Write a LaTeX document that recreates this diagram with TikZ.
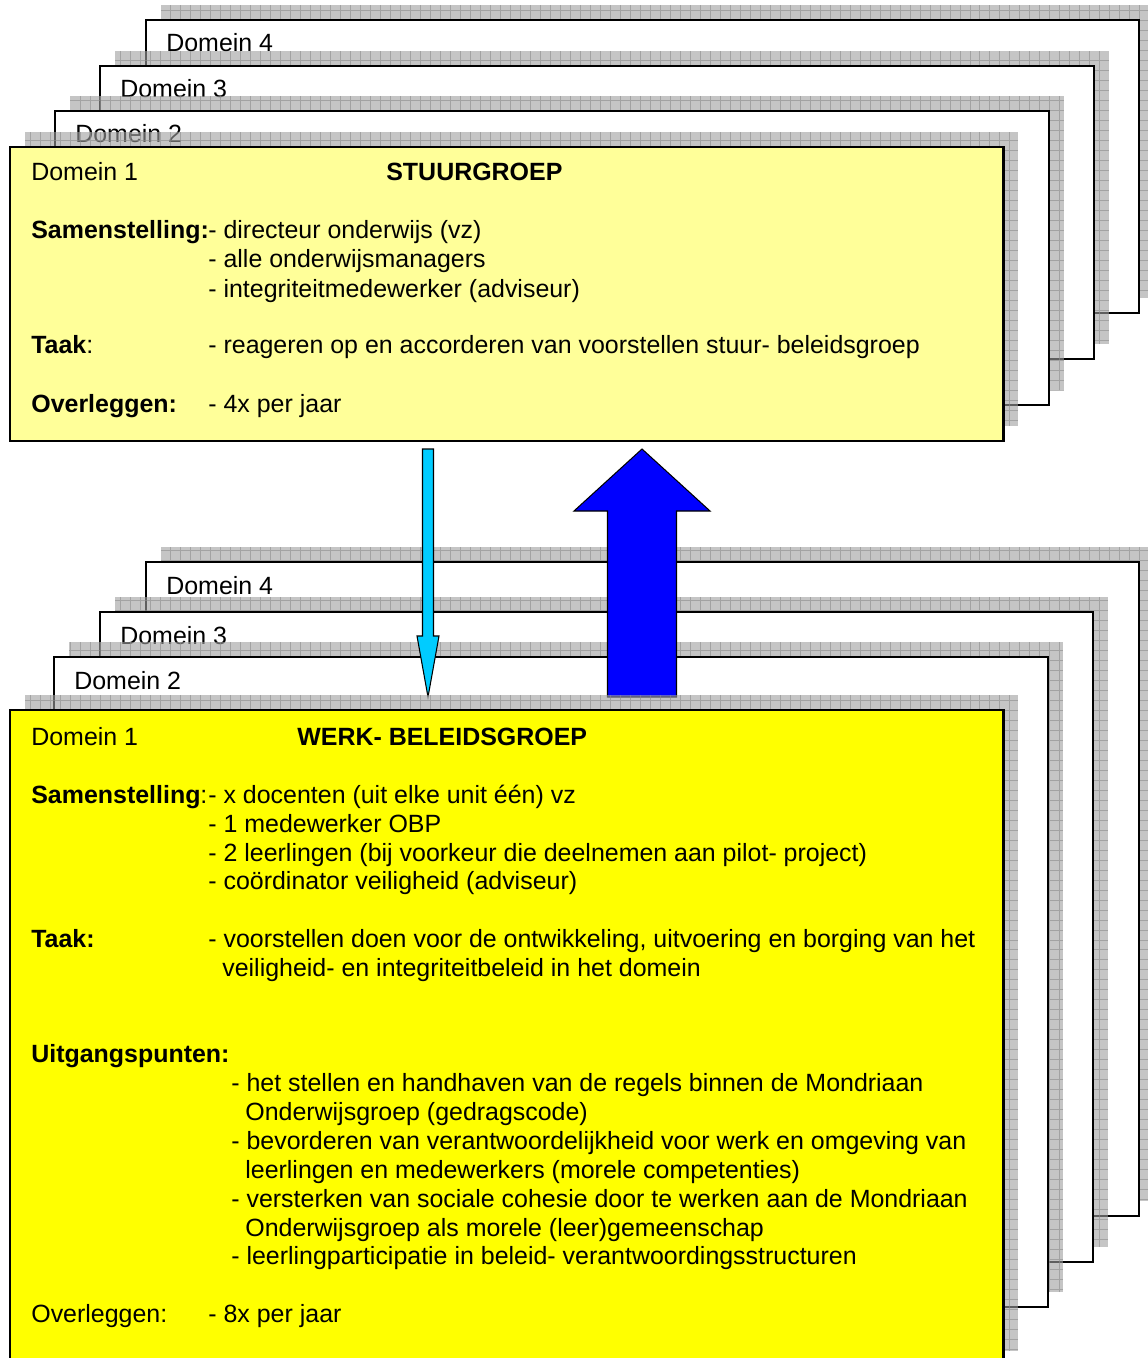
\documentclass[tikz,border=0pt]{standalone}
\usepackage{fontspec}
\setmainfont{Liberation Sans}
\usetikzlibrary{calc}

\definecolor{paleyellow}{HTML}{FFFF99}
\definecolor{fullyellow}{HTML}{FFFF00}
\definecolor{skyarrow}{HTML}{00CCFF}
\definecolor{bluearrow}{HTML}{0000FF}

\tikzset{
  shadowfill/.style={fill=gray!75, fill opacity=0.6},
  shadowgrid/.style={draw=gray!90, draw opacity=0.6, line width=0.35pt},
  backpage/.style={draw=black, line width=1.1pt, fill=white},
  frontpage/.style={draw=black, line width=1.7pt},
  txt/.style={anchor=base west, inner sep=0pt, font=\fontsize{14.2}{17}\selectfont},
  blockarrow/.style={draw=black, line width=0.6pt, line join=miter}
}

\begin{document}
\begin{tikzpicture}[x=0.02cm, y=-0.02cm]
    \useasboundingbox (0,0) rectangle (1148,1358);
    \clip (0,0) rectangle (1148,1358);
%
    % stuurgroep: back pages
    \foreach \l/\t/\r/\b/\n in {146/20/1139/313/4, 100/66/1094/359/3, 55/111/1049/405/2} {
      \fill[shadowfill] (\l+15,\t-15) rectangle (\r+15,\b-15);
      \begin{scope}
        \clip (\l+15,\t-15) rectangle (\r+15,\b-15);
        \draw[shadowgrid, step=0.2cm] (\l+15,\t-15) grid (\r+15,\b-15);
      \end{scope}
      \draw[backpage] (\l,\t) rectangle (\r,\b);
      \node[txt] (st-d\n) at (\l+20,\t+32) {Domein \n};
    }
    \fill[shadowfill] (25,132) rectangle (1018,426);
    \begin{scope}
      \clip (25,132) rectangle (1018,426);
      \draw[shadowgrid, step=0.2cm] (25,132) grid (1018,426);
    \end{scope}
    \draw[frontpage, fill=paleyellow] (10,147) rectangle (1003,441);
%
    \node[txt] (st-d1) at (31,181) {Domein 1};
    \node[txt] (st-title) at (386,181) {\bfseries STUURGROEP};
    \node[txt] (st-sam) at (31,239) {\bfseries Samenstelling:};
    \node[txt] (st-sam1) at (208,239) {- directeur onderwijs (vz)};
    \node[txt] (st-sam2) at (208,268) {- alle onderwijsmanagers};
    \node[txt] (st-sam3) at (208,297) {- integriteitmedewerker (adviseur)};
    \node[txt] (st-taak) at (31,354) {\textbf{Taak}:};
    \node[txt] (st-taak1) at (208,354) {- reageren op en accorderen van voorstellen stuur- beleidsgroep};
    \node[txt] (st-over) at (31,412) {\bfseries Overleggen:};
    \node[txt] (st-over1) at (208,412) {- 4x per jaar};
%
    % werk- beleidsgroep: back pages
    \foreach \l/\t/\r/\b/\n in {146/562/1139/1216/4, 100/612/1093/1262/3, 54/657/1048/1307/2} {
      \fill[shadowfill] (\l+15,\t-15) rectangle (\r+15,\b-15);
      \begin{scope}
        \clip (\l+15,\t-15) rectangle (\r+15,\b-15);
        \draw[shadowgrid, step=0.2cm] (\l+15,\t-15) grid (\r+15,\b-15);
      \end{scope}
      \draw[backpage] (\l,\t) rectangle (\r,\b);
      \node[txt] (wb-d\n) at (\l+20,\t+32) {Domein \n};
    }
%
    % arrows between the groups
    \coordinate (down top) at (428,449);
    \coordinate (down tip) at (428,697);
    \draw[blockarrow, fill=skyarrow] ($(down top)+(-5.5,0)$) -- ($(down top)+(5.5,0)$)
      -- ($(down tip)+(5.5,-61)$) -- ($(down tip)+(11,-61)$) -- (down tip)
      -- ($(down tip)+(-11,-61)$) -- ($(down tip)+(-5.5,-61)$) -- cycle;
    \coordinate (up tip) at (642,449);
    \coordinate (up foot) at (642,697);
    \draw[blockarrow, fill=bluearrow] ($(up foot)+(-34.5,0)$) -- ($(up foot)+(34.5,0)$)
      -- ($(up tip)+(34.5,62)$) -- ($(up tip)+(68,62)$) -- (up tip)
      -- ($(up tip)+(-68,62)$) -- ($(up tip)+(-34.5,62)$) -- cycle;
%
    \fill[shadowfill] (25,695) rectangle (1018,1351);
    \begin{scope}
      \clip (25,695) rectangle (1018,1351);
      \draw[shadowgrid, step=0.2cm] (25,695) grid (1018,1351);
    \end{scope}
    \draw[frontpage, fill=fullyellow] (10,710) rectangle (1003,1366);
%
    \node[txt] (wb-d1) at (31,745) {Domein 1};
    \node[txt] (wb-title) at (297,745) {\bfseries WERK- BELEIDSGROEP};
    \node[txt] (wb-sam) at (31,803) {\textbf{Samenstelling}:};
    \node[txt] (wb-sam1) at (208,803) {- x docenten (uit elke unit één) vz};
    \node[txt] (wb-sam2) at (208,832) {- 1 medewerker OBP};
    \node[txt] (wb-sam3) at (208,861) {- 2 leerlingen (bij voorkeur die deelnemen aan pilot- project)};
    \node[txt] (wb-sam4) at (208,889) {- coördinator veiligheid (adviseur)};
    \node[txt] (wb-taak) at (31,947) {\bfseries Taak:};
    \node[txt] (wb-taak1) at (208,947) {- voorstellen doen voor de ontwikkeling, uitvoering en borging van het};
    \node[txt] (wb-taak2) at (222,976) {veiligheid- en integriteitbeleid in het domein};
    \node[txt] (wb-uitg) at (31,1062) {\bfseries Uitgangspunten:};
    \node[txt] (wb-uitg1) at (231,1091) {- het stellen en handhaven van de regels binnen de Mondriaan};
    \node[txt] (wb-uitg1b) at (245,1120) {Onderwijsgroep (gedragscode)};
    \node[txt] (wb-uitg2) at (231,1149) {- bevorderen van verantwoordelijkheid voor werk en omgeving van};
    \node[txt] (wb-uitg2b) at (245,1178) {leerlingen en medewerkers (morele competenties)};
    \node[txt] (wb-uitg3) at (231,1207) {- versterken van sociale cohesie door te werken aan de Mondriaan};
    \node[txt] (wb-uitg3b) at (245,1236) {Onderwijsgroep als morele (leer)gemeenschap};
    \node[txt] (wb-uitg4) at (231,1264) {- leerlingparticipatie in beleid- verantwoordingsstructuren};
    \node[txt] (wb-over) at (31,1322) {Overleggen:};
    \node[txt] (wb-over1) at (208,1322) {- 8x per jaar};
  \end{tikzpicture}
\end{document}
